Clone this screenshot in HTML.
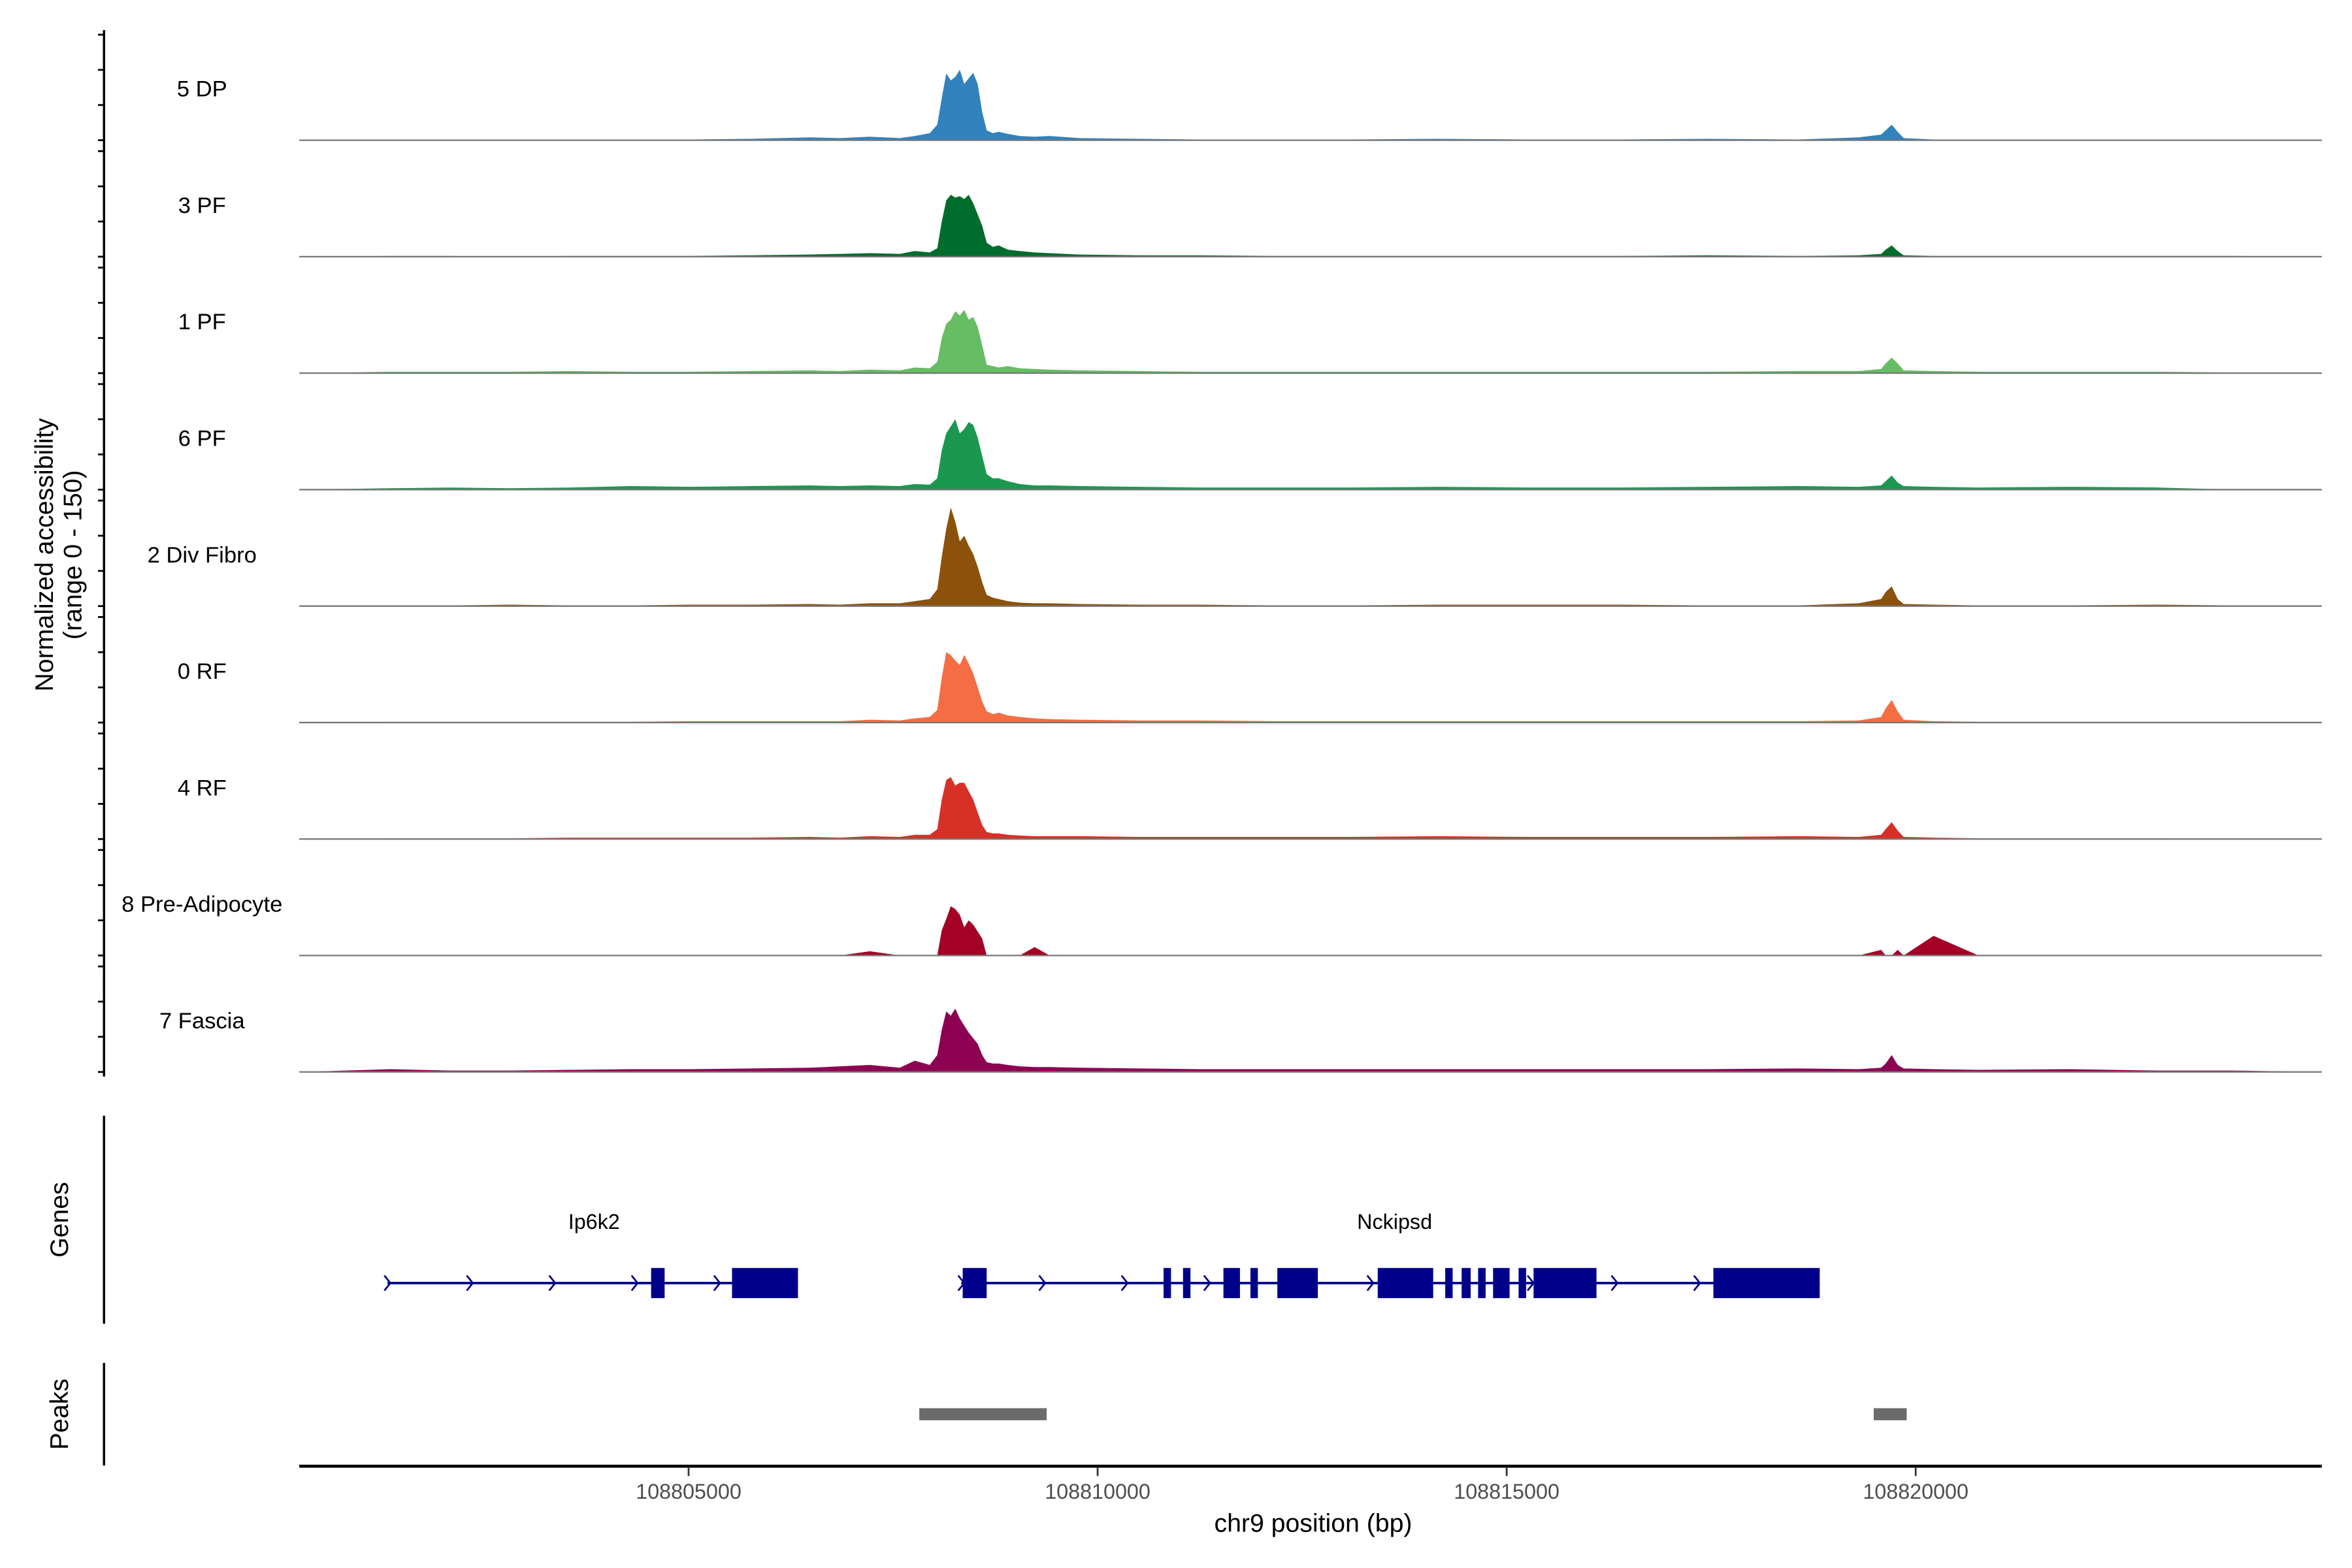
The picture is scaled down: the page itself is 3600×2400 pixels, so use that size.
<!DOCTYPE html>
<html><head><meta charset="utf-8"><style>
html,body{margin:0;padding:0;background:#fff;}
svg{display:block;font-family:"Liberation Sans",Arial,sans-serif;}
</style></head><body>
<svg id="chart" width="3600" height="2400" viewBox="0 0 1560 1040" preserveAspectRatio="none" xmlns="http://www.w3.org/2000/svg">
<rect x="0" y="0" width="1560" height="1040" fill="#fff"/>
<g id="tracks"></g>
<line x1="69" y1="20" x2="69" y2="714" stroke="#000" stroke-width="1.5"/>
<g id="yticks"></g>
<text transform="translate(35,368) rotate(-90)" text-anchor="middle" font-size="17">Normalized accessibility</text>
<text transform="translate(54,368) rotate(-90)" text-anchor="middle" font-size="17">(range 0 - 150)</text>
<line x1="69" y1="740" x2="69" y2="878" stroke="#000" stroke-width="1.5"/>
<text transform="translate(45,809) rotate(-90)" text-anchor="middle" font-size="17">Genes</text>
<g id="genes"></g>
<line x1="69" y1="904" x2="69" y2="972" stroke="#000" stroke-width="1.5"/>
<text transform="translate(45,938) rotate(-90)" text-anchor="middle" font-size="17">Peaks</text>
<g id="peaks"></g>
<line x1="198.5" y1="972.5" x2="1540" y2="972.5" stroke="#000" stroke-width="2"/>
<g id="xticks"></g>
<text x="871" y="1016" text-anchor="middle" font-size="17">chr9 position (bp)</text>
</svg>
<script>
const NS="http://www.w3.org/2000/svg";
const regionStart=108800241, regionEnd=108824965;
const xTicks=[108805000,108810000,108815000,108820000];
const trackNames=["5 DP","3 PF","1 PF","6 PF","2 Div Fibro","0 RF","4 RF","8 Pre-Adipocyte","7 Fascia"];
const trackColors=["#3182bd","#006d2c","#66bd63","#1a9850","#8c510a","#f46d43","#d73027","#a50026","#8e0152"];
const positions=[108800256,108801355,108802088,108802820,108803553,108804285,108805018,108805751,108806483,108806849,108807216,108807582,108807765,108807948,108808040,108808095,108808150,108808205,108808260,108808315,108808370,108808424,108808479,108808534,108808589,108808644,108808718,108808791,108808901,108809047,108809230,108809414,108809780,108810512,108811245,108812161,108813077,108814175,108815274,108816373,108817472,108818571,108819304,108819578,108819633,108819707,108819780,108819853,108820219,108820769,108821868,108822967,108823882,108824945];
const vals_5DP=[0,1,1,0,1,0,1,2,4,3,5,3,6,10,22,60,95,85,90,100,80,88,96,80,40,14,10,12,9,6,5,6,3,2,1,1,1,2,1,1,2,1,4,8,14,22,12,3,1,1,1,1,0,0];
const vals_3PF=[0,1,1,0,1,1,1,2,3,4,5,4,8,6,12,50,80,88,84,86,82,88,76,60,44,20,14,16,10,8,6,5,3,2,2,1,1,1,1,1,2,1,2,4,10,16,8,2,1,1,1,1,1,0];
const vals_1PF=[0,2,2,2,3,2,2,3,4,3,5,4,8,7,16,50,70,76,88,82,90,76,80,66,40,12,10,8,10,7,6,5,4,3,2,2,2,2,2,2,2,3,3,6,14,22,14,4,3,2,2,2,1,0];
const vals_6PF=[0,2,3,2,3,5,4,5,6,5,6,5,8,7,16,56,80,90,100,80,86,96,92,74,48,22,16,16,12,8,6,6,5,4,3,3,3,4,3,3,4,5,4,6,12,20,10,5,4,3,4,3,0,0];
const vals_Div=[0,1,1,2,1,1,2,2,3,2,4,4,7,10,24,70,110,140,120,92,100,86,74,56,34,16,12,10,7,5,4,4,3,2,2,1,1,2,2,2,1,1,4,10,20,28,10,3,2,1,1,2,1,0];
const vals_0RF=[0,1,1,1,1,1,2,2,2,2,4,3,6,8,18,64,100,96,88,82,96,84,70,50,30,16,12,14,10,8,6,5,4,3,3,2,2,2,2,2,2,2,3,8,20,32,16,4,2,1,1,1,1,0];
const vals_4RF=[0,1,1,1,2,2,2,2,3,2,4,3,6,6,14,56,84,88,76,80,80,68,56,38,20,10,8,8,6,5,4,4,4,3,3,3,3,4,3,3,3,4,3,6,14,24,12,3,2,1,1,1,0,0];
const vals_PreA=[0,0,0,0,0,0,0,0,0,0,6,0,0,0,0,36,52,70,66,58,40,50,44,34,24,0,0,0,0,0,12,0,0,0,0,0,0,0,0,0,0,0,0,8,0,0,8,0,28,0,0,0,0,0];
const vals_Fas=[0,4,2,2,3,4,4,5,6,8,10,6,16,10,24,60,86,80,90,76,66,56,48,40,24,14,12,12,10,8,7,7,6,5,4,4,4,4,4,4,4,5,4,6,12,24,10,5,4,3,4,2,2,0];
const trackValues=[vals_5DP,vals_3PF,vals_1PF,vals_6PF,vals_Div,vals_0RF,vals_4RF,vals_PreA,vals_Fas];
const geneNames=["Ip6k2","Nckipsd"];
const geneStarts=[108801318,108808333];
const geneEnds=[108806337,108818827];
const exonStarts_Ip6k2=[108804542,108805531];
const exonEnds_Ip6k2=[108804707,108806337];
const exonStarts_Nckipsd=[108808351,108810806,108811044,108811538,108811868,108812197,108813424,108814249,108814450,108814651,108814834,108815146,108815329,108817527];
const exonEnds_Nckipsd=[108808644,108810897,108811135,108811740,108811959,108812692,108814102,108814340,108814560,108814743,108815036,108815238,108816098,108818827];
const arrows_Ip6k2=[108801318,108802325,108803333,108804340,108805347];
const arrows_Nckipsd=[108808333,108809322,108810329,108811337,108813333,108815292,108816318,108817326];
const peakStarts=[108807820,108819487];
const peakEnds=[108809377,108819890];

const X0=198.5,X1=1540;
function xScale(bp){return X0+(bp-regionStart)/(regionEnd-regionStart)*(X1-X0);}
const baseline0=93, trackStep=77.25, pxPerUnit=70/150;
function yScale(v,i){return baseline0+i*trackStep - v*pxPerUnit;}
function mk(tag,attrs,parent){const e=document.createElementNS(NS,tag);for(const k in attrs)e.setAttribute(k,attrs[k]);parent.appendChild(e);return e;}

const tracksG=document.getElementById('tracks');
const yt=document.getElementById('yticks');
trackNames.forEach((name,i)=>{
  const base=yScale(0,i);
  const vals=trackValues[i];
  let d="M"+xScale(positions[0])+","+base;
  positions.forEach((p,j)=>{d+=" L"+xScale(p).toFixed(2)+","+yScale(vals[j],i).toFixed(2);});
  d+=" L"+xScale(positions[positions.length-1])+","+base+" Z";
  const path=mk('path',{d:d,fill:trackColors[i],stroke:'none'},tracksG);
  
  
  const bl=mk('line',{x1:X0,x2:X1,y1:base,y2:base,stroke:'#777','stroke-width':1},tracksG);
  
  
  const lab=mk('text',{x:134,y:base-29,'text-anchor':'middle','font-size':15},tracksG);
  lab.textContent=name;
  
  
  [0,50,100,150].forEach(v=>{
    const t=mk('line',{x1:65,x2:69,y1:yScale(v,i),y2:yScale(v,i),stroke:'#000','stroke-width':1.2},yt);
    
    
  });
});

const gG=document.getElementById('genes');
const geneY=851;
const exonS=[exonStarts_Ip6k2,exonStarts_Nckipsd], exonE=[exonEnds_Ip6k2,exonEnds_Nckipsd], arr=[arrows_Ip6k2,arrows_Nckipsd];
const labelX=[394,925];
geneNames.forEach((g,i)=>{
  const ln=mk('line',{x1:xScale(geneStarts[i]),x2:xScale(geneEnds[i]),y1:geneY,y2:geneY,stroke:'#00008b','stroke-width':1.6},gG);
  
  
  arr[i].forEach(a=>{
    const x=xScale(a);
    const p=mk('path',{d:`M${x-2},${geneY-5} L${x+2},${geneY} L${x-2},${geneY+5}`,fill:'none',stroke:'#00008b','stroke-width':1.2},gG);
    
    
  });
  exonS[i].forEach((s,j)=>{
    const r=mk('rect',{x:xScale(s),y:geneY-10,width:xScale(exonE[i][j])-xScale(s),height:20,fill:'#00008b'},gG);
    
    
  });
  const t=mk('text',{x:labelX[i],y:815,'text-anchor':'middle','font-size':14},gG);
  t.textContent=g;
  
  
});

const pG=document.getElementById('peaks');
peakStarts.forEach((s,i)=>{
  const r=mk('rect',{x:xScale(s),y:934,width:xScale(peakEnds[i])-xScale(s),height:8,fill:'#6b6b6b'},pG);
  
  
});

const xg=document.getElementById('xticks');
xTicks.forEach(v=>{
  const x=xScale(v);
  const l=mk('line',{x1:x,x2:x,y1:973,y2:979,stroke:'#333','stroke-width':1.2},xg);
  
  
  const t=mk('text',{x:x,y:994,'text-anchor':'middle','font-size':14,fill:'#4d4d4d'},xg);
  t.textContent=String(v);
  
  
});
</script>
</body></html>
